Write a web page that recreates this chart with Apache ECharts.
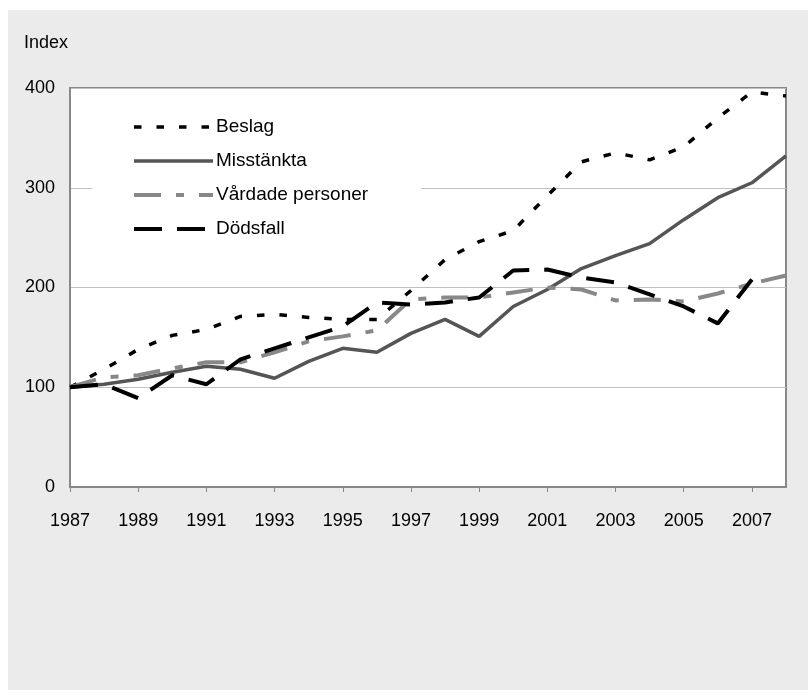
<!DOCTYPE html>
<html>
<head>
<meta charset="utf-8">
<script src="https://cdn.jsdelivr.net/npm/echarts@6/dist/echarts.min.js"></script>
<style>
  body { margin: 0; background: #fff; }
  #bg { position: absolute; left: 8px; top: 10px; width: 800px; height: 680px; background: #ebebeb; }
  #chart { position: absolute; left: 0; top: 0; width: 808px; height: 700px; }
</style>
</head>
<body>
<div id="bg"></div>
<div id="chart"></div>
<script>
// Index, 1987 = 100
var years = ['1987', '1988', '1989', '1990', '1991', '1992', '1993', '1994', '1995', '1996', '1997',
  '1998', '1999', '2000', '2001', '2002', '2003', '2004', '2005', '2006', '2007', '2008']
var beslag = [100, 118, 138, 152, 158, 171, 173, 170, 168, 168, 197, 228, 246, 257, 292, 326, 335, 328, 341, 370, 396, 392]
var misstankta = [100, 103, 108, 115, 121, 118, 109, 126, 139, 135, 154, 168, 151, 181, 198, 219, 232, 244, 268, 290, 305, 332]
var vardade = [100, 110, 112, 119, 125, 125, 135, 146, 151, 157, 188, 190, 190, 195, 200, 198, 187, 188, 186, 194, 204, 212]
var dodsfall = [100, 103, 89, 112, 103, 128, 139, 150, 161, 185, 183, 185, 190, 217, 218, 210, 205, 193, 181, 164, 208, null]

var font = 'Liberation Sans, Arial, sans-serif'
var chart = echarts.init(document.getElementById('chart'))

var styles = {
  'Beslag': { color: '#000', width: 3.5, type: [7.5, 15] },
  'Misstänkta': { color: '#555', width: 3.5, type: 'solid' },
  'Vårdade personer': { color: '#888', width: 4, type: [27, 15, 8, 15] },
  'Dödsfall': { color: '#000', width: 4, type: [28, 15] }
}

function line(name, data) {
  var s = styles[name]
  return {
    name: name,
    type: 'line',
    data: data,
    symbol: 'none',
    connectNulls: false,
    animation: false,
    lineStyle: { color: s.color, width: s.width, type: s.type },
    itemStyle: { color: s.color }
  }
}

function legendItem(name) {
  var s = styles[name]
  return {
    name: name,
    itemStyle: { opacity: 0 },
    lineStyle: { color: s.color, width: s.width, type: s.type }
  }
}

var option = {
  backgroundColor: 'transparent',
  grid: {
    left: 70,
    right: 22,
    top: 88,
    bottom: 213,
    show: true,
    backgroundColor: '#fff',
    borderColor: '#888',
    borderWidth: 2
  },
  legend: {
    orient: 'vertical',
    left: 92,
    top: 107,
    padding: [10, 53, 10, 40],
    backgroundColor: '#fff',
    itemWidth: 79,
    itemHeight: 14,
    itemGap: 14,
    textStyle: { fontFamily: font, fontSize: 19, color: '#000', lineHeight: 20, padding: [0, 0, 0, -2] },
    data: ['Beslag', 'Misstänkta', 'Vårdade personer', 'Dödsfall'].map(legendItem)
  },
  xAxis: {
    type: 'category',
    boundaryGap: false,
    data: years,
    axisLine: { lineStyle: { color: '#888', width: 2 } },
    axisTick: { interval: 1, length: 5, lineStyle: { color: '#888' } },
    axisLabel: { interval: 1, margin: 25, color: '#000', fontFamily: font, fontSize: 18 },
    splitLine: { show: false }
  },
  yAxis: {
    type: 'value',
    min: 0,
    max: 400,
    interval: 100,
    name: 'Index',
    nameLocation: 'end',
    nameGap: 36,
    nameTextStyle: { align: 'right', color: '#000', fontFamily: font, fontSize: 18, padding: [0, 2, 0, 0] },
    axisLine: { show: true, lineStyle: { color: '#888', width: 2 } },
    axisTick: { show: false },
    axisLabel: { margin: 15, color: '#000', fontFamily: font, fontSize: 18 },
    splitLine: { lineStyle: { color: '#c0c0c0', width: 1 } }
  },
  series: [
    line('Beslag', beslag),
    line('Misstänkta', misstankta),
    line('Vårdade personer', vardade),
    line('Dödsfall', dodsfall)
  ]
}
chart.setOption(option)
</script>
</body>
</html>
